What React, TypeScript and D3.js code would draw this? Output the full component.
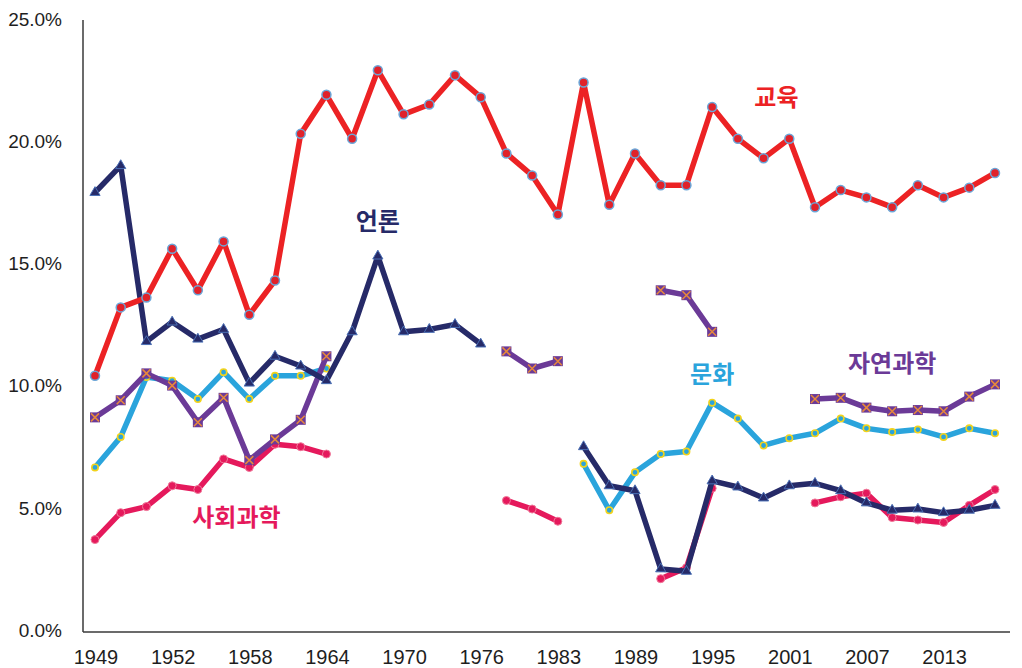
import { useRef, useEffect } from "react";
import * as d3 from "d3";

const years = [
  "1949", "1950", "1951", "1952", "1954", "1956", "1958", "1960", "1962", "1964",
  "1966", "1968", "1970", "1972", "1974", "1976", "1979", "1981", "1983", "1985",
  "1987", "1989", "1991", "1993", "1995", "1997", "1999", "2001", "2003", "2005",
  "2007", "2009", "2011", "2013", "2015", "2017",
];
const tickYears = ["1949", "1952", "1958", "1964", "1970", "1976", "1983", "1989", "1995", "2001", "2007", "2013"];
const yTicks = [0, 5, 10, 15, 20, 25];

type V = number | null;

const education: V[] = [
  10.4, 13.2, 13.6, 15.6, 13.9, 15.9, 12.9, 14.3, 20.3, 21.9,
  20.1, 22.9, 21.1, 21.5, 22.7, 21.8, 19.5, 18.6, 17.0, 22.4,
  17.4, 19.5, 18.2, 18.2, 21.4, 20.1, 19.3, 20.1, 17.3, 18.0,
  17.7, 17.3, 18.2, 17.7, 18.1, 18.7,
];
const press: V[] = [
  17.9, 19.0, 11.8, 12.6, 11.9, 12.3, 10.1, 11.2, 10.8, 10.2,
  12.2, 15.3, 12.2, 12.3, 12.5, 11.7, null, null, null, 7.5,
  5.9, 5.7, 2.5, 2.4, 6.1, 5.85, 5.4, 5.9, 6.0, 5.7,
  5.2, 4.9, 4.95, 4.8, 4.9, 5.1,
];
const naturalSci: V[] = [
  8.7, 9.4, 10.5, 10.0, 8.5, 9.5, 6.95, 7.8, 8.6, 11.2,
  null, null, null, null, null, null, 11.4, 10.7, 11.0, null,
  null, null, 13.9, 13.7, 12.2, null, null, null, 9.45, 9.5,
  9.1, 8.95, 9.0, 8.95, 9.55, 10.05,
];
const culture: V[] = [
  6.65, 7.9, 10.35, 10.2, 9.45, 10.55, 9.45, 10.4, 10.4, 10.7,
  null, null, null, null, null, null, null, null, null, 6.8,
  4.9, 6.45, 7.2, 7.3, 9.3, 8.65, 7.55, 7.85, 8.05, 8.65,
  8.25, 8.1, 8.2, 7.9, 8.25, 8.05,
];
const socialSci: V[] = [
  3.7, 4.8, 5.05, 5.9, 5.75, 7.0, 6.65, 7.6, 7.5, 7.2,
  null, null, null, null, null, null, 5.3, 4.95, 4.45, null,
  null, null, 2.1, 2.55, 5.8, null, null, null, 5.2, 5.45,
  5.6, 4.6, 4.5, 4.4, 5.1, 5.75,
];

// label anchored between two categories (year, next year)
const labels = [
  { text: "교육", year: "1999", next: "2001", value: 21.8, color: "#ec2224" },
  { text: "언론", year: "1968", next: "1968", value: 16.7, color: "#262a68" },
  { text: "자연과학", year: "2009", next: "2009", value: 10.9, color: "#6b3a97" },
  { text: "문화", year: "1995", next: "1995", value: 10.45, color: "#2aa4dc" },
  { text: "사회과학", year: "1956", next: "1958", value: 4.6, color: "#e5195c" },
];

const WIDTH = 1022;
const HEIGHT = 668;

export default function App() {
  const svgRef = useRef<SVGSVGElement>(null);

  useEffect(() => {
    if (!svgRef.current) return;
    const svg = d3.select(svgRef.current);
    svg.selectAll("*").remove();

    const axisX = 83;
    const axisBottom = 632;
    const x = d3.scalePoint<string>().domain(years).range([95, 995]);
    const y = d3.scaleLinear().domain([0, 25]).range([630, 19]);

    svg.append("rect").attr("width", WIDTH).attr("height", HEIGHT).attr("fill", "#fff");

    // Axes
    svg.append("line")
      .attr("x1", axisX).attr("x2", axisX)
      .attr("y1", 20).attr("y2", axisBottom)
      .attr("stroke", "#3a3a3a").attr("stroke-width", 1.5);
    svg.append("line")
      .attr("x1", axisX).attr("x2", 1010)
      .attr("y1", axisBottom).attr("y2", axisBottom)
      .attr("stroke", "#3a3a3a").attr("stroke-width", 1.5);

    svg.append("g")
      .selectAll("text")
      .data(yTicks)
      .enter()
      .append("text")
      .attr("x", 62)
      .attr("y", (d) => y(d))
      .attr("dy", "0.36em")
      .attr("text-anchor", "end")
      .attr("font-family", "'Liberation Sans', Arial, sans-serif")
      .attr("font-size", "19px")
      .attr("fill", "#1e1e1e")
      .text((d) => `${d.toFixed(1)}%`);

    svg.append("g")
      .selectAll("text")
      .data(tickYears)
      .enter()
      .append("text")
      .attr("x", (d) => (x(d) ?? 0) + 1)
      .attr("y", 664)
      .attr("text-anchor", "middle")
      .attr("font-family", "'Liberation Sans', Arial, sans-serif")
      .attr("font-size", "20px")
      .attr("fill", "#1e1e1e")
      .text((d) => d);

    const line = d3
      .line<V>()
      .defined((d) => d !== null)
      .x((_, i) => x(years[i]) ?? 0)
      .y((d) => y(d as number));

    const pts = (vals: V[]) =>
      vals.map((v, i) => ({ v, yr: years[i] })).filter((p) => p.v !== null) as { v: number; yr: string }[];

    const drawLine = (vals: V[], color: string) => {
      svg.append("path")
        .datum(vals)
        .attr("fill", "none")
        .attr("stroke", color)
        .attr("stroke-width", 5.5)
        .attr("stroke-linejoin", "round")
        .attr("d", line);
    };

    // 사회과학
    drawLine(socialSci, "#e5195c");
    svg.append("g").selectAll("circle").data(pts(socialSci)).enter().append("circle")
      .attr("cx", (d) => x(d.yr) ?? 0).attr("cy", (d) => y(d.v))
      .attr("r", 4).attr("fill", "#e5195c").attr("stroke", "#f07a9a").attr("stroke-width", 1);

    // 문화
    drawLine(culture, "#2aa4dc");
    svg.append("g").selectAll("circle").data(pts(culture)).enter().append("circle")
      .attr("cx", (d) => x(d.yr) ?? 0).attr("cy", (d) => y(d.v))
      .attr("r", 3.2).attr("fill", "#2aa4dc").attr("stroke", "#f2d31b").attr("stroke-width", 1.6);

    // 자연과학
    drawLine(naturalSci, "#6b3a97");
    const ns = svg.append("g").selectAll("g").data(pts(naturalSci)).enter().append("g")
      .attr("transform", (d) => `translate(${x(d.yr) ?? 0},${y(d.v)})`);
    ns.append("rect").attr("x", -5).attr("y", -5).attr("width", 10).attr("height", 10).attr("fill", "#6b3a97");
    ns.append("path").attr("d", "M-4,-4L4,4M-4,4L4,-4").attr("stroke", "#e8893a").attr("stroke-width", 1.5);

    // 언론
    drawLine(press, "#262a68");
    const tri = d3.symbol().type(d3.symbolTriangle).size(45);
    svg.append("g").selectAll("path").data(pts(press)).enter().append("path")
      .attr("transform", (d) => `translate(${x(d.yr) ?? 0},${y(d.v)})`)
      .attr("d", tri)
      .attr("fill", "#262a68").attr("stroke", "#4a6fb5").attr("stroke-width", 1);

    // 교육
    drawLine(education, "#ec2224");
    svg.append("g").selectAll("circle").data(pts(education)).enter().append("circle")
      .attr("cx", (d) => x(d.yr) ?? 0).attr("cy", (d) => y(d.v))
      .attr("r", 4.5).attr("fill", "#e0222a").attr("stroke", "#6aa6d8").attr("stroke-width", 1.5);

    // Series labels
    svg.append("g").selectAll("text").data(labels).enter().append("text")
      .attr("x", (d) => ((x(d.year) ?? 0) + (x(d.next) ?? 0)) / 2)
      .attr("y", (d) => y(d.value))
      .attr("dy", "0.36em")
      .attr("text-anchor", "middle")
      .attr("font-family", "'Noto Sans CJK KR', sans-serif")
      .attr("font-weight", "bold")
      .attr("font-size", "24px")
      .attr("fill", (d) => d.color)
      .text((d) => d.text);
  }, []);

  return (
    <svg
      ref={svgRef}
      width={WIDTH}
      height={HEIGHT}
      style={{ position: "absolute", left: 0, top: 0, display: "block" }}
    />
  );
}
